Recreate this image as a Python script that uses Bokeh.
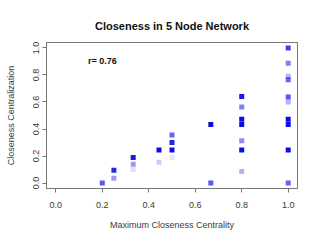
from bokeh.plotting import figure
from bokeh.models import Range1d, FixedTicker, PrintfTickFormatter, ColumnDataSource, Label
from bokeh.embed import file_html
from bokeh.resources import INLINE

# data
max_closeness = [0.2, 0.25, 0.25, 0.333, 0.333, 0.333, 0.444, 0.444,
                 0.5, 0.5, 0.5, 0.5, 0.667, 0.667,
                 0.8, 0.8, 0.8, 0.8, 0.8, 0.8, 0.8,
                 1.0, 1.0, 1.0, 1.0, 1.0, 1.0, 1.0, 1.0, 1.0, 1.0]
centralization = [0.0, 0.095, 0.036, 0.19, 0.14, 0.10, 0.245, 0.154,
                  0.355, 0.30, 0.245, 0.19, 0.433, 0.0,
                  0.64, 0.563, 0.473, 0.433, 0.313, 0.245, 0.085,
                  1.0, 0.886, 0.79, 0.764, 0.637, 0.60, 0.473, 0.433, 0.245, 0.0]
point_alpha = [0.65, 0.85, 0.4, 0.9, 0.4, 0.12, 0.95, 0.2,
               0.6, 0.85, 0.95, 0.1, 0.95, 0.65,
               0.9, 0.5, 0.95, 0.95, 0.45, 0.95, 0.3,
               0.75, 0.5, 0.3, 0.6, 0.65, 0.3, 0.95, 0.95, 0.95, 0.6]
tick_values = [0.0, 0.2, 0.4, 0.6, 0.8, 1.0]
r_text = "r= 0.76"
r_pos = (0.2, 0.9)

FONT = "Liberation Sans"
GRAY = "#777777"
TXT = "#3a3a3a"

p = figure(width=320, height=240, output_backend="svg", toolbar_location=None,
           x_range=Range1d(-0.04, 1.04), y_range=Range1d(-0.04, 1.04),
           min_border_left=46, min_border_right=23, min_border_top=42, min_border_bottom=52,
           title="Closeness in 5 Node Network")
p.background_fill_color = "white"
p.border_fill_color = "white"
p.outline_line_color = GRAY
p.outline_line_width = 1
p.grid.visible = False

p.title.align = "center"
p.title.text_font = FONT
p.title.text_font_size = "11px"
p.title.text_font_style = "bold"
p.title.text_color = "#111111"
p.title.standoff = 22

for ax in (p.xaxis[0], p.yaxis[0]):
    ax.ticker = FixedTicker(ticks=tick_values)
    ax.formatter = PrintfTickFormatter(format="%.1f")
    ax.axis_line_color = GRAY
    ax.major_tick_line_color = GRAY
    ax.major_tick_out = 4
    ax.major_tick_in = 0
    ax.minor_tick_line_color = None
    ax.major_label_text_font = FONT
    ax.major_label_text_font_size = "9px"
    ax.major_label_text_color = TXT
    ax.axis_label_text_font = FONT
    ax.axis_label_text_font_size = "9px"
    ax.axis_label_text_font_style = "normal"
    ax.axis_label_text_color = TXT

p.xaxis.axis_label = "Maximum Closeness Centrality"
p.xaxis.major_label_standoff = 9
p.xaxis.axis_label_standoff = 9
p.yaxis.axis_label = "Closeness Centralization"
p.yaxis.major_label_orientation = "vertical"
p.yaxis.major_label_standoff = 3
p.yaxis.axis_label_standoff = 15

src = ColumnDataSource(dict(x=max_closeness, y=centralization, a=point_alpha))
p.scatter("x", "y", source=src, marker="square", size=5, fill_color="#0000e0",
          fill_alpha="a", line_color=None)

p.add_layout(Label(x=r_pos[0], y=r_pos[1], text=r_text, text_align="center",
                   text_baseline="middle", text_font=FONT, text_font_size="9px",
                   text_font_style="bold", text_color="#111111"))

open("out.html", "w").write(file_html(p, INLINE))
